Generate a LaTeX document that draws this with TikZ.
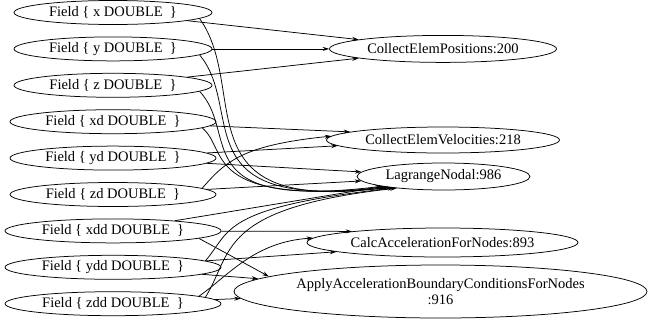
\documentclass[tikz,border=0pt]{standalone}
\usepackage{fontspec}
\setmainfont{Liberation Serif}
\usepackage{tikz}
\usetikzlibrary{shapes.geometric,arrows.meta}
\tikzstyle{fieldnode} = [ellipse,draw=black,line width=0.75pt,inner sep=0pt,minimum width=198pt,minimum height=24pt,text centered]
\tikzstyle{kernelnode} = [ellipse,draw=black,line width=0.75pt,inner sep=0pt,minimum height=27pt,text centered,align=center]
\tikzstyle{arrow} = [line width=0.75pt,-{Stealth[length=6.5pt,width=4pt]}]

\begin{document}
\begin{tikzpicture}[x=1pt,y=1pt,node distance=36.4pt]
\tikzstyle{every node}=[font=\fontsize{14.5}{16.5}\selectfont]

% 1 px = 1 pt, origin at top left
\useasboundingbox (0,0) rectangle (648,-322);

\node (x)   [fieldnode,xshift=113pt,yshift=-12.5pt] {Field \{ x DOUBLE\ \ \}};
\node (y)   [fieldnode,below of=x] {Field \{ y DOUBLE\ \ \}};
\node (z)   [fieldnode,below of=y] {Field \{ z DOUBLE\ \ \}};
\node (xd)  [fieldnode,minimum width=206pt,below of=z] {Field \{ xd DOUBLE\ \ \}};
\node (yd)  [fieldnode,minimum width=206pt,below of=xd] {Field \{ yd DOUBLE\ \ \}};
\node (zd)  [fieldnode,minimum width=206pt,below of=yd] {Field \{ zd DOUBLE\ \ \}};
\node (xdd) [fieldnode,minimum width=216pt,below of=zd] {Field \{ xdd DOUBLE\ \ \}};
\node (ydd) [fieldnode,minimum width=216pt,below of=xdd] {Field \{ ydd DOUBLE\ \ \}};
\node (zdd) [fieldnode,minimum width=216pt,below of=ydd] {Field \{ zdd DOUBLE\ \ \}};

\node (CEP)   [kernelnode,minimum width=227pt,right of=y,xshift=293.6pt] {CollectElemPositions:200};
\node (CEV)   [kernelnode,minimum width=233pt,minimum height=26pt,xshift=443pt,yshift=-140pt] {CollectElemVelocities:218};
\node (LN)    [kernelnode,minimum width=173pt,xshift=443.5pt,yshift=-176.5pt] {LagrangeNodal:986};
\node (Calc)  [kernelnode,minimum width=271pt,minimum height=29pt,xshift=442.5pt,yshift=-242.5pt] {CalcAccelerationForNodes:893};
\node (Apply) [kernelnode,minimum width=413pt,minimum height=53pt,xshift=440.5pt,yshift=-291.5pt] {ApplyAccelerationBoundaryConditionsForNodes\\:916};

% positions
\draw[arrow] (x) -- (CEP);
\draw[arrow] (y) -- (CEP);
\draw[arrow] (z) -- (CEP);

% velocities
\draw[arrow] (xd) -- (CEV.175);
\draw[arrow] (yd) -- (CEV);
\draw[arrow] (zd.4) .. controls +(24,28) and +(-87,-9) .. (CEV.178);

% lagrange
\draw[arrow] (x.-4) .. controls +(51,-72) and +(-209,-28) .. (LN.191);
\draw[arrow] (y.-4) .. controls +(46,-55) and +(-204,-25) .. (LN.190);
\draw[arrow] (z.-4) .. controls +(41,-44) and +(-198,-24) .. (LN.189);
\draw[arrow] (xd.-4) .. controls +(27,-22) and +(-192,-18) .. (LN.192);
\draw[arrow] (yd) -- (LN);
\draw[arrow] (zd) -- (LN);
\draw[arrow] (xdd) -- (LN);
\draw[arrow] (ydd.4) .. controls +(26,30) and +(-175,-20) .. (LN.193);
\draw[arrow] (zdd.4) .. controls +(28,45) and +(-180,-20) .. (LN.194);

% acceleration
\draw[arrow] (xdd) -- (Calc.173);
\draw[arrow] (ydd) -- (Calc.185);
\draw[arrow] (zdd.5) .. controls +(30,21) and +(-59,-4) .. (Calc.178);

% boundary conditions
\draw[arrow] (xdd.-5) -- (Apply.175);
\draw[arrow] (ydd) -- (Apply.176);
\draw[arrow] (zdd) -- (Apply.182);

\end{tikzpicture}
\end{document}
